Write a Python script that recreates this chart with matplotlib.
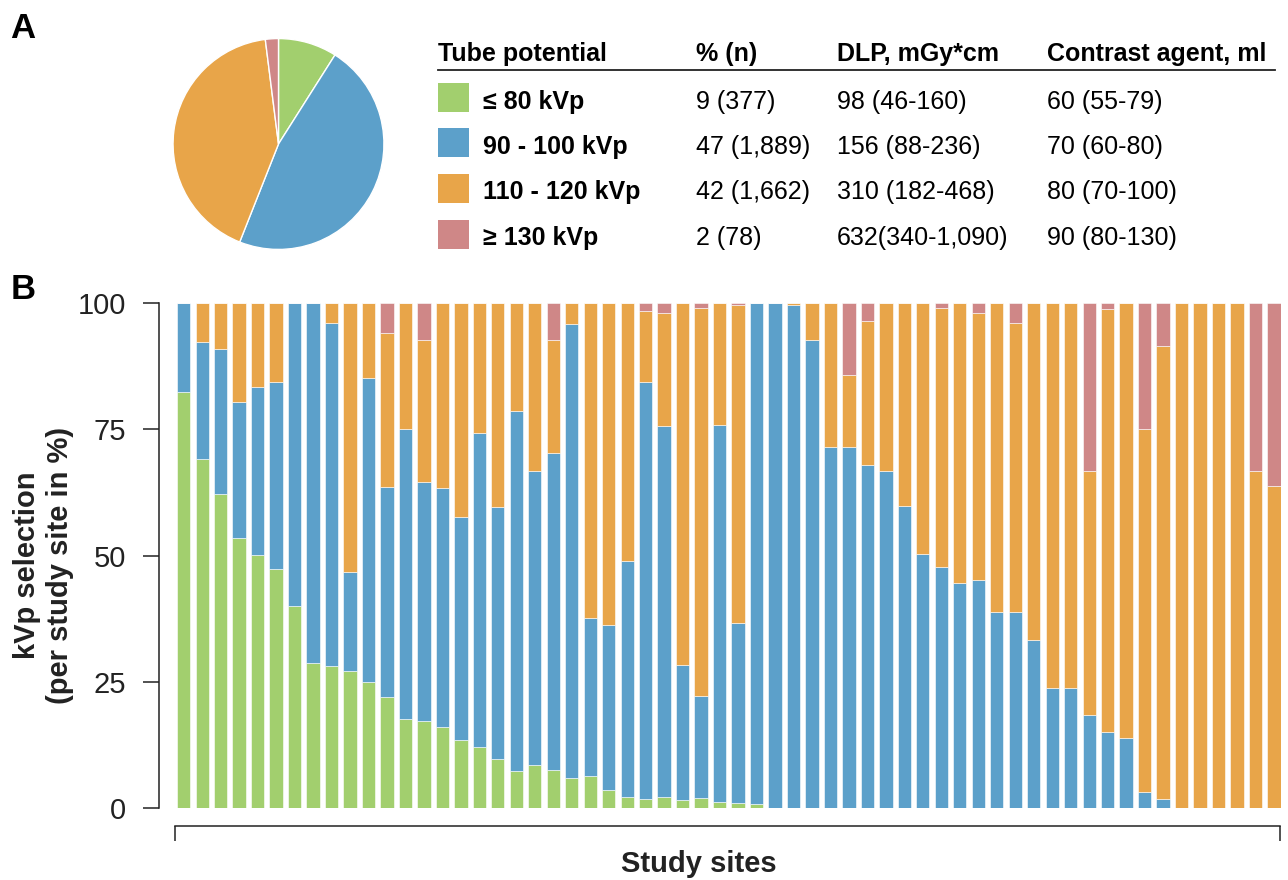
import numpy as np
import matplotlib
matplotlib.use("Agg")
import matplotlib.pyplot as plt
from matplotlib.patches import Rectangle

plt.rcParams['font.family'] = ['Liberation Sans', 'DejaVu Sans']

# --- data -------------------------------------------------------------
categories = ["\u2264 80 kVp", "90 - 100 kVp", "110 - 120 kVp", "\u2265 130 kVp"]
colors = ["#A2CF6E", "#5CA0CA", "#E8A549", "#CF8787"]
pie_share = [9, 47, 42, 2]

col_pct = ["9 (377)", "47 (1,889)", "42 (1,662)", "2 (78)"]
col_dlp = ["98 (46-160)", "156 (88-236)", "310 (182-468)", "632(340-1,090)"]
col_contrast = ["60 (55-79)", "70 (60-80)", "80 (70-100)", "90 (80-130)"]
headers = ["Tube potential", "% (n)", "DLP, mGy*cm", "Contrast agent, ml"]

# per study site share (%) of each tube potential group
kv80 = [82.5, 69.2, 62.1, 53.4, 50.1, 47.4, 40.0, 28.6, 28.1, 27.2,
        25.0, 21.9, 17.5, 17.2, 16.0, 13.4, 12.0, 9.6, 7.2, 8.4,
        7.5, 5.8, 6.2, 3.5, 2.1, 1.8, 2.1, 1.5, 1.9, 1.2,
        0.9, 0.7, 0, 0, 0, 0, 0, 0, 0, 0,
        0, 0, 0, 0, 0, 0, 0, 0, 0, 0,
        0, 0, 0, 0, 0, 0, 0, 0, 0, 0]
kv100 = [17.5, 23.1, 28.9, 27.0, 33.4, 36.9, 60.0, 71.4, 68.0, 19.5,
         60.2, 41.6, 57.6, 47.3, 47.3, 44.3, 62.2, 50.0, 71.5, 58.4,
         62.9, 90.0, 31.4, 32.8, 46.9, 82.5, 73.6, 26.8, 20.2, 74.7,
         35.7, 99.3, 100, 99.6, 92.8, 71.5, 71.5, 67.9, 66.7, 59.8,
         50.3, 47.8, 44.5, 45.2, 38.7, 38.7, 33.3, 23.7, 23.7, 18.3,
         15.1, 13.8, 3.1, 1.7, 0, 0, 0, 0, 0, 0]
kv120 = [0, 7.7, 9.0, 19.6, 16.5, 15.7, 0, 0, 3.9, 53.3,
         14.8, 30.6, 24.9, 28.2, 36.7, 42.3, 25.8, 40.4, 21.3, 33.2,
         22.3, 4.2, 62.4, 63.7, 51.0, 14.1, 22.4, 71.7, 76.9, 24.1,
         63.1, 0, 0, 0.4, 7.2, 28.5, 14.3, 28.6, 33.3, 40.2,
         49.7, 51.2, 55.5, 52.9, 61.3, 57.4, 66.7, 76.3, 76.3, 48.4,
         83.8, 86.2, 71.9, 89.9, 100, 100, 100, 100, 66.7, 63.7]
kv130 = [0, 0, 0, 0, 0, 0, 0, 0, 0, 0,
         0, 5.9, 0, 7.3, 0, 0, 0, 0, 0, 0,
         7.3, 0, 0, 0, 0, 1.6, 1.9, 0, 1.0, 0,
         0.3, 0, 0, 0, 0, 0, 14.2, 3.5, 0, 0,
         0, 1.0, 0, 1.9, 0, 3.9, 0, 0, 0, 33.3,
         1.1, 0, 25.0, 8.4, 0, 0, 0, 0, 33.3, 36.3]

# --- figure -----------------------------------------------------------
W, H = 1288, 880
fig = plt.figure(figsize=(W / 100, H / 100), dpi=100)
dark = "#222222"


def fx(x):
    return x / W


def fy(y):
    return 1 - y / H


# panel labels
fig.text(fx(10), fy(38.5), "A", fontsize=25, fontweight="bold", va="baseline")
fig.text(fx(11), fy(299), "B", fontsize=25, fontweight="bold", va="baseline")

# pie
ax_pie = fig.add_axes([fx(172), fy(250.5), 213 / W, 213 / H])
ax_pie.pie(pie_share, colors=colors, startangle=90, counterclock=False,
           wedgeprops=dict(edgecolor="white", linewidth=1))
ax_pie.set_xlim(-1.01, 1.01)
ax_pie.set_ylim(-1.01, 1.01)
ax_pie.set_aspect("equal")
ax_pie.axis("off")

# table next to the pie
col_x = [438, 696, 837, 1047]
fs = 18
for hx, h in zip(col_x, headers):
    fig.text(fx(hx), fy(61.5), h, fontsize=fs, fontweight="bold", va="baseline")
fig.add_artist(plt.Line2D([fx(438), fx(1275)], [fy(70.5), fy(70.5)],
                          color=dark, linewidth=1.3))
for i in range(4):
    yc = 97.5 + 45.5 * i
    fig.add_artist(Rectangle((fx(438), fy(yc + 14.5)), 31 / W, 29 / H,
                             transform=fig.transFigure, facecolor=colors[i],
                             edgecolor="none"))
    base = yc + 11
    fig.text(fx(483), fy(base), categories[i], fontsize=fs, fontweight="bold",
             va="baseline")
    fig.text(fx(col_x[1]), fy(base), col_pct[i], fontsize=fs, va="baseline")
    fig.text(fx(col_x[2]), fy(base), col_dlp[i], fontsize=fs, va="baseline")
    fig.text(fx(col_x[3]), fy(base), col_contrast[i], fontsize=fs, va="baseline")

# stacked bars
ax = fig.add_axes([fx(175), fy(807.7), 1105.6 / W, 504.4 / H])
x = np.arange(len(kv80))
width = 0.72
bottom = np.zeros(len(x))
for vals, c in zip([kv80, kv100, kv120, kv130], colors):
    vals = np.array(vals)
    ax.bar(x, vals, width, bottom=bottom, color=c, edgecolor="white",
           linewidth=0.4)
    bottom += vals

ax.set_xlim(-0.36, 59.36)
ax.set_ylim(0, 100)
for s in ["top", "right"]:
    ax.spines[s].set_visible(False)
ax.spines["left"].set_position(("outward", 11.5))
ax.spines["left"].set_bounds(0, 100)
ax.spines["bottom"].set_position(("outward", 13))
ax.spines["bottom"].set_bounds(-0.47, 59.34)
for s in ["left", "bottom"]:
    ax.spines[s].set_color(dark)
    ax.spines[s].set_linewidth(1.1)

ax.set_yticks([0, 25, 50, 75, 100])
ax.tick_params(axis="y", length=11.5, width=1.1, direction="out", pad=12,
               labelsize=21, colors=dark)
ax.set_xticks([-0.47, 59.34])
ax.set_xticklabels(["", ""])
ax.tick_params(axis="x", length=11, width=1.1, direction="out", colors=dark)

fig.text(fx(43.5), fy(565), "kVp selection\n(per study site in %)",
         rotation=90, ha="center", va="center", multialignment="center",
         fontsize=21, fontweight="bold", color=dark, linespacing=1.2)
fig.text(fx(699), fy(872), "Study sites", ha="center", va="baseline",
         fontsize=21, fontweight="bold", color=dark)

fig.savefig("out.png", dpi=100)
